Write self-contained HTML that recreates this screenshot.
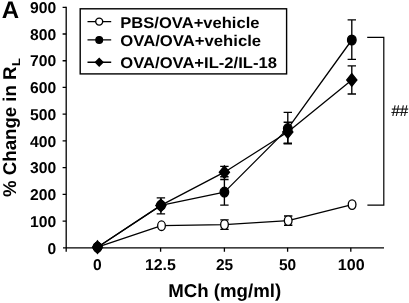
<!DOCTYPE html>
<html><head><meta charset="utf-8"><title>Figure A</title>
<style>
html,body{margin:0;padding:0;background:#fff;}
svg{display:block}
text{font-family:"Liberation Sans",Arial,sans-serif;fill:#000;text-rendering:geometricPrecision}
.b{font-weight:bold}
</style></head>
<body>
<svg width="409" height="303" viewBox="0 0 409 303">
<rect width="409" height="303" fill="#fff"/>
<g stroke="#000" stroke-width="1.3" fill="none">
<path d="M66.2 6.7V251.8"/>
<path d="M63 247.8H384"/>
<path d="M62.6 7.30H66.2 M62.6 34.02H66.2 M62.6 60.74H66.2 M62.6 87.47H66.2 M62.6 114.19H66.2 M62.6 140.91H66.2 M62.6 167.63H66.2 M62.6 194.36H66.2 M62.6 221.08H66.2"/>
<path d="M160.6 247.8V251.8 M224.4 247.8V251.8 M287.6 247.8V251.8 M350.8 247.8V251.8"/>
</g>
<g class="b" font-size="15.6" text-anchor="end">
<text x="56.3" y="13.00" textLength="26.2" lengthAdjust="spacingAndGlyphs">900</text>
<text x="56.3" y="39.72" textLength="26.2" lengthAdjust="spacingAndGlyphs">800</text>
<text x="56.3" y="66.44" textLength="26.2" lengthAdjust="spacingAndGlyphs">700</text>
<text x="56.3" y="93.17" textLength="26.2" lengthAdjust="spacingAndGlyphs">600</text>
<text x="56.3" y="119.89" textLength="26.2" lengthAdjust="spacingAndGlyphs">500</text>
<text x="56.3" y="146.61" textLength="26.2" lengthAdjust="spacingAndGlyphs">400</text>
<text x="56.3" y="173.33" textLength="26.2" lengthAdjust="spacingAndGlyphs">300</text>
<text x="56.3" y="200.06" textLength="26.2" lengthAdjust="spacingAndGlyphs">200</text>
<text x="56.3" y="226.78" textLength="26.2" lengthAdjust="spacingAndGlyphs">100</text>
<text x="56.3" y="253.50" textLength="8.7" lengthAdjust="spacingAndGlyphs">0</text>
</g>
<g class="b" font-size="15.6" text-anchor="middle">
<text x="97.4" y="270.4" textLength="8.7" lengthAdjust="spacingAndGlyphs">0</text>
<text x="160.4" y="270.4" textLength="31.0" lengthAdjust="spacingAndGlyphs">12.5</text>
<text x="224.6" y="270.4" textLength="17.2" lengthAdjust="spacingAndGlyphs">25</text>
<text x="287.6" y="270.4" textLength="17.2" lengthAdjust="spacingAndGlyphs">50</text>
<text x="351.2" y="270.4" textLength="26.8" lengthAdjust="spacingAndGlyphs">100</text>
</g>
<text class="b" x="168.2" y="297" font-size="18.5" textLength="113" lengthAdjust="spacingAndGlyphs">MCh (mg/ml)</text>
<text class="b" x="1.8" y="18.3" font-size="24">A</text>
<g transform="translate(16.4 197) rotate(-90)">
<text class="b" x="0" y="0" font-size="18.5" textLength="130.6" lengthAdjust="spacingAndGlyphs">% Change in R</text>
<text class="b" x="131" y="3.4" font-size="11.5" textLength="8" lengthAdjust="spacingAndGlyphs">L</text>
</g>
<rect x="80.2" y="8.8" width="206.4" height="65.1" fill="#fff" stroke="#000" stroke-width="1.4"/>
<g stroke="#000" stroke-width="1.4">
<path d="M87.5 21.6H111.2 M87.5 39.9H111.2 M87.5 62.3H111.2"/>
<circle cx="99.2" cy="21.6" r="3.5" fill="#fff"/>
<circle cx="99.2" cy="39.9" r="3.3" fill="#000"/>
<path d="M99.2 58.6 L102.9 62.3 L99.2 66 L95.5 62.3Z" fill="#000"/>
</g>
<g class="b" font-size="15.5">
<text x="120.3" y="27.6" textLength="139.2" lengthAdjust="spacingAndGlyphs">PBS/OVA+vehicle</text>
<text x="120.3" y="45.9" textLength="140.8" lengthAdjust="spacingAndGlyphs">OVA/OVA+vehicle</text>
<text x="120.3" y="68.3" textLength="156.6" lengthAdjust="spacingAndGlyphs">OVA/OVA+IL-2/IL-18</text>
</g>
<g stroke="#000" stroke-width="1.35" fill="none">
<path d="M224.5 219.9V229.3 M220.3 219.9h8.4 M220.3 229.3h8.4"/>
<path d="M288.2 216.0V225.2 M284.0 216.0h8.4 M284.0 225.2h8.4"/>
<path d="M160.9 197.8V213.9 M156.7 197.8h8.4 M156.7 213.9h8.4"/>
<path d="M224.4 179.5V205.1 M220.2 179.5h8.4 M220.2 205.1h8.4"/>
<path d="M287.8 112.4V143.7 M283.6 112.4h8.4 M283.6 143.7h8.4"/>
<path d="M351.8 19.9V59.3 M347.6 19.9h8.4 M347.6 59.3h8.4"/>
<path d="M224.4 166.3V176.7 M220.2 166.3h8.4 M220.2 176.7h8.4"/>
<path d="M287.8 122.2V143.2 M283.6 122.2h8.4 M283.6 143.2h8.4"/>
<path d="M351.8 65.8V94 M347.6 65.8h8.4 M347.6 94h8.4"/>
</g>
<g stroke="#000" stroke-width="1.3" fill="none" stroke-linejoin="round">
<polyline points="97.5,247.2 161.5,225.7 224.5,224.6 288.2,220.6 352.1,204.6"/>
<polyline points="97.5,247.2 160.9,205.4 224.4,192.1 287.8,128.6 351.8,40.0"/>
<polyline points="97.5,247.2 160.9,205.4 224.4,172.2 287.8,132.0 351.8,79.9"/>
</g>
<g stroke="#000" stroke-width="1.3">
<g fill="#fff">
<ellipse cx="97.5" cy="247.2" rx="3.85" ry="4.8"/>
<ellipse cx="161.5" cy="225.7" rx="3.85" ry="4.8"/>
<ellipse cx="224.5" cy="224.6" rx="3.85" ry="4.8"/>
<ellipse cx="288.2" cy="220.6" rx="3.85" ry="4.8"/>
<ellipse cx="352.1" cy="204.6" rx="3.85" ry="4.8"/>
</g><g fill="#000">
<ellipse cx="97.5" cy="247.2" rx="4.3" ry="4.9"/>
<ellipse cx="160.9" cy="205.4" rx="4.3" ry="4.9"/>
<ellipse cx="224.4" cy="192.1" rx="4.3" ry="4.9"/>
<ellipse cx="287.8" cy="128.6" rx="4.3" ry="4.9"/>
<ellipse cx="351.8" cy="40.0" rx="4.3" ry="4.9"/>
<path d="M97.5 240.9l5.1 6.3 -5.1 6.3 -5.1 -6.3z"/>
<path d="M160.9 199.1l5.1 6.3 -5.1 6.3 -5.1 -6.3z"/>
<path d="M224.4 165.9l5.1 6.3 -5.1 6.3 -5.1 -6.3z"/>
<path d="M287.8 125.7l5.1 6.3 -5.1 6.3 -5.1 -6.3z"/>
<path d="M351.8 73.6l5.1 6.3 -5.1 6.3 -5.1 -6.3z"/>
</g></g>
<path d="M367.2 37.3H383.8V205.1H367.4" stroke="#000" stroke-width="1.2" fill="none"/>
<text x="391.4" y="116.2" font-size="15.2" textLength="16.8" lengthAdjust="spacingAndGlyphs" stroke="#000" stroke-width="0.2">##</text>
</svg>
</body></html>
